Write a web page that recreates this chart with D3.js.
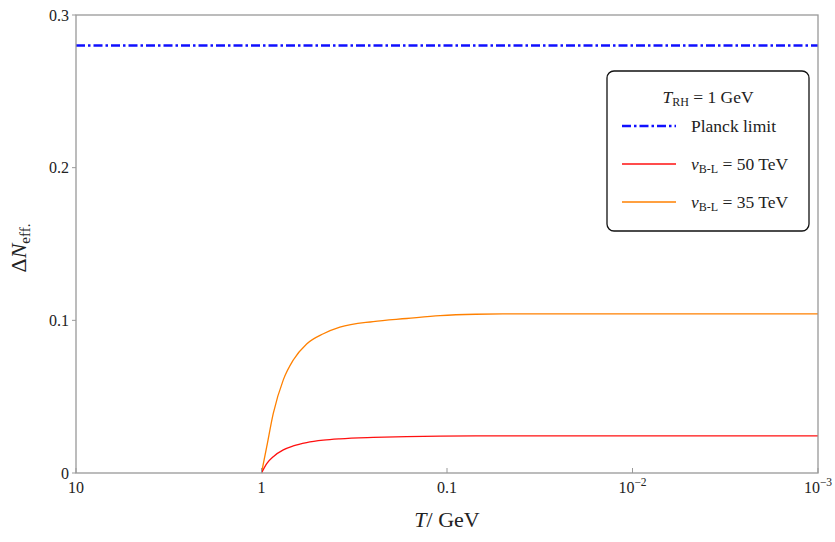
<!DOCTYPE html>
<html>
<head>
<meta charset="utf-8">
<script src="https://cdn.jsdelivr.net/npm/d3@7"></script>
<style>
body{margin:0;background:#fff;}
text{font-family:"Liberation Serif","DejaVu Serif",serif;fill:#222;}
</style>
</head>
<body>
<div id="chart"></div>
<script>
// temperature points (GeV)
var temps = [1, 0.937, 0.864, 0.763, 0.674, 0.571, 0.464, 0.378, 0.25, 0.165, 0.109, 0.07, 0.05, 0.01, 0.001];
// v_B-L = 35 TeV (orange)
var dn35 = [0, 0.0172, 0.039, 0.061, 0.074, 0.0845, 0.0912, 0.0955, 0.0992, 0.1012, 0.1031, 0.104, 0.1042, 0.1042, 0.1042];
// v_B-L = 50 TeV (red)
var dn50 = [0, 0.0062, 0.0107, 0.0151, 0.0177, 0.0199, 0.0215, 0.0224, 0.0233, 0.0238, 0.0241, 0.0243, 0.0243, 0.0243, 0.0243];
var planck = 0.28;
var xTicks = [10, 1, 0.1, 0.01, 0.001];
var xTickLabels = [["10",""], ["1",""], ["0.1",""], ["10","\u22122"], ["10","\u22123"]];
var yTicks = [0, 0.1, 0.2, 0.3];
var yTickLabels = ["0", "0.1", "0.2", "0.3"];

var W = 835, H = 542;
var margin = {top: 15, right: 17, bottom: 69, left: 76},
	width = W - margin.left - margin.right,
	height = H - margin.top - margin.bottom;

var x = d3.scaleLog().domain([10, 0.001]).range([0, width]);
var y = d3.scaleLinear().domain([0, 0.3]).range([height, 0]);

var svg = d3.select("#chart").append("svg")
	.attr("width", W).attr("height", H)
	.append("g")
	.attr("transform", "translate(" + margin.left + "," + margin.top + ")");

var axisCol = "#999";

// curves
var line = d3.line()
	.x(function(d){ return x(d[0]); })
	.y(function(d){ return y(d[1]); })
	.curve(d3.curveMonotoneX);

svg.append("path")
	.datum(temps.map(function(t,i){ return [t, dn35[i]]; }))
	.attr("d", line)
	.attr("fill", "none")
	.attr("stroke", "#ff8000")
	.attr("stroke-width", 1.3);

svg.append("path")
	.datum(temps.map(function(t,i){ return [t, dn50[i]]; }))
	.attr("d", line)
	.attr("fill", "none")
	.attr("stroke", "#ff1010")
	.attr("stroke-width", 1.3);

// Planck limit
svg.append("line")
	.attr("x1", x(10)).attr("x2", x(0.001))
	.attr("y1", y(planck)).attr("y2", y(planck))
	.attr("stroke", "#1010ff")
	.attr("stroke-width", 2.6)
	.attr("stroke-dasharray", "9,3,2.5,3");

// frame
svg.append("rect")
	.attr("x", 0).attr("y", 0)
	.attr("width", width).attr("height", height)
	.attr("fill", "none")
	.attr("stroke", axisCol)
	.attr("stroke-width", 1.3);

// x ticks (inward)
var xg = svg.append("g");
xTicks.forEach(function(t, i){
	xg.append("line")
		.attr("x1", x(t)).attr("x2", x(t))
		.attr("y1", height).attr("y2", height - 5)
		.attr("stroke", axisCol).attr("stroke-width", 1);
	var txt = xg.append("text")
		.attr("x", x(t)).attr("y", height + 20)
		.attr("text-anchor", "middle")
		.style("font-size", "16px");
	txt.append("tspan").text(xTickLabels[i][0]);
	if (xTickLabels[i][1]) {
		txt.append("tspan")
			.attr("dy", -7)
			.style("font-size", "11.5px")
			.text(xTickLabels[i][1]);
	}
});

// y ticks (outward)
var yg = svg.append("g");
yTicks.forEach(function(t, i){
	yg.append("line")
		.attr("x1", 0).attr("x2", -4)
		.attr("y1", y(t)).attr("y2", y(t))
		.attr("stroke", axisCol).attr("stroke-width", 1);
	yg.append("text")
		.attr("x", -7).attr("y", y(t) + 5.5)
		.attr("text-anchor", "end")
		.style("font-size", "16px")
		.text(yTickLabels[i]);
});

// axis titles
var xt = svg.append("text")
	.attr("x", width / 2).attr("y", height + 54)
	.attr("text-anchor", "middle")
	.style("font-size", "22px");
xt.append("tspan").style("font-style", "italic").text("T");
xt.append("tspan").text("/ GeV");

var yt = svg.append("text")
	.attr("text-anchor", "middle")
	.attr("transform", "translate(" + (-50) + "," + 233 + ")rotate(-90)")
	.style("font-size", "22px");
yt.append("tspan").text("\u0394");
yt.append("tspan").style("font-style", "italic").text("N");
yt.append("tspan").attr("dy", 4).style("font-size", "15px").text("eff.");

// legend
var lg = svg.append("g").attr("transform", "translate(" + (607 - margin.left) + "," + (71 - margin.top) + ")");
lg.append("rect")
	.attr("width", 202).attr("height", 160)
	.attr("rx", 7).attr("ry", 7)
	.attr("fill", "#fff")
	.attr("stroke", "#111")
	.attr("stroke-width", 1.3);

var ttl = lg.append("text")
	.attr("x", 101).attr("y", 32)
	.attr("text-anchor", "middle")
	.style("font-size", "17.5px");
ttl.append("tspan").style("font-style", "italic").text("T");
ttl.append("tspan").attr("dy", 3).style("font-size", "12px").text("RH");
ttl.append("tspan").attr("dy", -3).text(" = 1 GeV");

var items = [
	{label: "Planck limit", col: "#1010ff", w: 2.6, dash: "9,3,2.5,3", y: 55},
	{label: "50", col: "#ff1010", w: 1.3, dash: null, y: 93},
	{label: "35", col: "#ff8000", w: 1.3, dash: null, y: 131}
];
items.forEach(function(it){
	lg.append("line")
		.attr("x1", 15).attr("x2", 69)
		.attr("y1", it.y).attr("y2", it.y)
		.attr("stroke", it.col)
		.attr("stroke-width", it.w)
		.attr("stroke-dasharray", it.dash);
	var t = lg.append("text")
		.attr("x", 84).attr("y", it.y + 6)
		.style("font-size", "17.5px");
	if (it.label === "Planck limit") {
		t.text(it.label);
	} else {
		t.append("tspan").style("font-style", "italic").text("v");
		t.append("tspan").attr("dy", 3).style("font-size", "12px").text("B-L");
		t.append("tspan").attr("dy", -3).text(" = " + it.label + " TeV");
	}
});
</script>
</body>
</html>
